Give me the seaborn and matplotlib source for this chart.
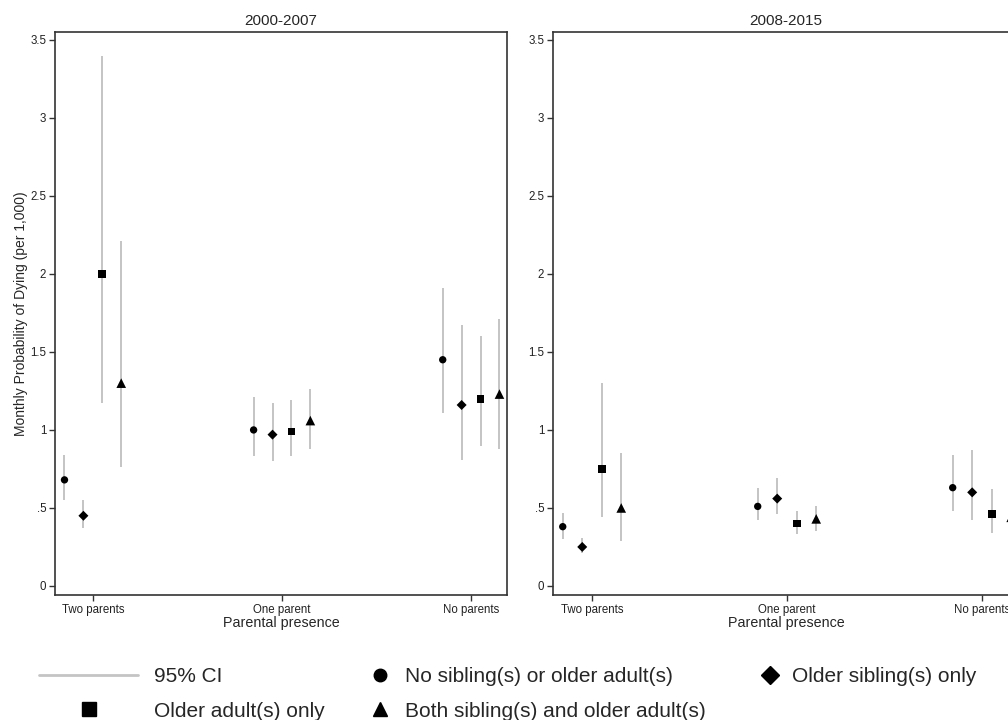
import numpy as np
import pandas as pd
import seaborn as sns
import matplotlib
matplotlib.use("Agg")
import matplotlib.pyplot as plt
from matplotlib.lines import Line2D

sns.set_theme(style="ticks")
plt.rcParams['font.family'] = ['Liberation Sans', 'DejaVu Sans']

# data
periods = ["2000-2007", "2008-2015"]
parent_cats = ["Two parents", "One parent", "No parents"]
groups = ["No sibling(s) or older adult(s)", "Older sibling(s) only",
          "Older adult(s) only", "Both sibling(s) and older adult(s)"]

# rows = parental presence, cols = household group
est_0007 = [[0.68, 0.45, 2.00, 1.30],
            [1.00, 0.97, 0.99, 1.06],
            [1.45, 1.16, 1.20, 1.23]]
lo_0007 = [[0.55, 0.37, 1.17, 0.76],
           [0.83, 0.80, 0.83, 0.88],
           [1.11, 0.81, 0.90, 0.88]]
hi_0007 = [[0.84, 0.55, 3.40, 2.21],
           [1.21, 1.17, 1.19, 1.26],
           [1.91, 1.67, 1.60, 1.71]]

est_0815 = [[0.38, 0.25, 0.75, 0.50],
            [0.51, 0.56, 0.40, 0.43],
            [0.63, 0.60, 0.46, 0.44]]
lo_0815 = [[0.30, 0.21, 0.44, 0.29],
           [0.42, 0.46, 0.33, 0.35],
           [0.48, 0.42, 0.34, 0.33]]
hi_0815 = [[0.47, 0.31, 1.30, 0.85],
           [0.63, 0.69, 0.48, 0.51],
           [0.84, 0.87, 0.62, 0.64]]

ytick_vals = [0, 0.5, 1, 1.5, 2, 2.5, 3, 3.5]
ytick_labels = ["0", ".5", "1", "1.5", "2", "2.5", "3", "3.5"]

markers = {groups[0]: "o", groups[1]: "D", groups[2]: "s", groups[3]: "^"}
sizes = {groups[0]: 28, groups[1]: 26, groups[2]: 32, groups[3]: 48}
dodge = np.array([-0.15, -0.05, 0.05, 0.15])


def make_frame(est, lo, hi):
    rows = []
    for i, cat in enumerate(parent_cats):
        for j, g in enumerate(groups):
            rows.append({"cat": cat, "group": g, "x": i + dodge[j],
                         "est": est[i][j], "lo": lo[i][j], "hi": hi[i][j]})
    return pd.DataFrame(rows)


frames = [make_frame(est_0007, lo_0007, hi_0007),
          make_frame(est_0815, lo_0815, hi_0815)]

fig = plt.figure(figsize=(10.08, 7.2), dpi=100)
ax1 = fig.add_axes([0.0546, 0.1736, 0.4484, 0.782])
ax2 = fig.add_axes([0.5486, 0.1736, 0.4623, 0.782])

ci_color = "#c4c4c4"
frame_color = "#333333"

for ax, df, title in zip([ax1, ax2], frames, periods):
    ax.vlines(df["x"], df["lo"], df["hi"], color=ci_color, lw=1.4, zorder=1)
    sns.scatterplot(data=df, x="x", y="est", style="group", markers=markers,
                    size="group", sizes=sizes, color="black", linewidth=0,
                    legend=False, ax=ax, zorder=3)
    ax.set_xlim(-0.2, 2.19)
    ax.set_ylim(-0.058, 3.551)
    ax.set_xticks(range(len(parent_cats)))
    ax.set_xticklabels(parent_cats, fontsize=8.3, color="#222222")
    ax.set_yticks(ytick_vals)
    ax.set_yticklabels(ytick_labels, fontsize=8.3, color="#222222")
    ax.tick_params(direction="out", length=4.3, width=1, color=frame_color, pad=2)
    for sp in ax.spines.values():
        sp.set_color(frame_color)
        sp.set_linewidth(1.2)
    ax.set_title(title, fontsize=11, pad=5)
    ax.set_xlabel("Parental presence", fontsize=10.3, labelpad=0)
    ax.set_ylabel("")

ax1.set_ylabel("Monthly Probability of Dying (per 1,000)", fontsize=10, labelpad=2)

# legend, laid out in three columns like the original
ci_handle = Line2D([], [], color=ci_color, lw=2)
mk = lambda m, s: Line2D([], [], ls="none", marker=m, color="black", markersize=s)
h_circle = mk("o", 9)
h_diamond = mk("D", 9.5)
h_square = mk("s", 10)
h_triangle = mk("^", 10.5)

leg_kw = dict(frameon=False, fontsize=15, loc="upper left", borderpad=0,
              borderaxespad=0, labelspacing=0.75)
leg1 = fig.legend([ci_handle, h_square], ["95% CI", "Older adult(s) only"],
                  bbox_to_anchor=(0.039, 0.0736), handlelength=4.75,
                  handletextpad=0.77, **leg_kw)
leg2 = fig.legend([h_circle, h_triangle], [groups[0], groups[3]],
                  bbox_to_anchor=(0.3646, 0.0736), handlelength=1.2,
                  handletextpad=0.6, **leg_kw)
leg3 = fig.legend([h_diamond], [groups[1]],
                  bbox_to_anchor=(0.7515, 0.0736), handlelength=1.2,
                  handletextpad=0.46, **leg_kw)

fig.savefig("out.png", dpi=100)
